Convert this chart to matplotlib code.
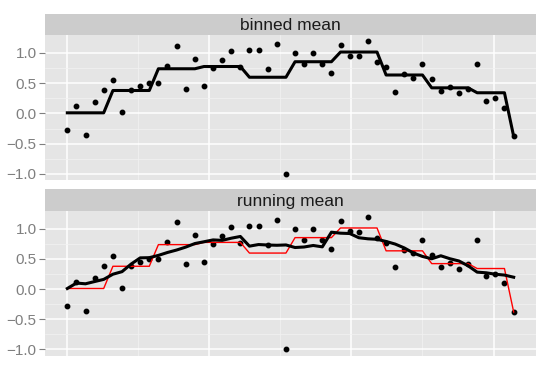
import matplotlib
matplotlib.use("Agg")
import matplotlib.pyplot as plt
import numpy as np
import pandas as pd

x = [0.000, 0.064, 0.128, 0.192, 0.256, 0.321, 0.385, 0.449, 0.513, 0.577,
     0.641, 0.705, 0.769, 0.833, 0.898, 0.962, 1.026, 1.090, 1.154, 1.218,
     1.282, 1.346, 1.411, 1.475, 1.539, 1.603, 1.667, 1.731, 1.795, 1.859,
     1.923, 1.988, 2.052, 2.116, 2.180, 2.244, 2.308, 2.372, 2.436, 2.500,
     2.565, 2.629, 2.693, 2.757, 2.821, 2.885, 2.949, 3.013, 3.077, 3.142]
y = [-0.28, 0.115, -0.357, 0.19, 0.38, 0.55, 0.016, 0.385, 0.445, 0.495,
     0.495, 0.775, 1.115, 0.41, 0.89, 0.45, 0.75, 0.88, 1.03, 0.76,
     1.05, 1.05, 0.73, 1.15, -0.995, 0.99, 0.81, 0.99, 0.81, 0.665,
     1.13, 0.955, 0.945, 1.19, 0.845, 0.76, 0.36, 0.65, 0.59, 0.81,
     0.565, 0.37, 0.435, 0.33, 0.41, 0.81, 0.21, 0.25, 0.093, -0.38]
# bin each point belongs to for the binned mean
bins = [0, 0, 0, 0, 0, 1, 1, 1, 1, 1,
        2, 2, 2, 2, 2, 3, 3, 3, 3, 3,
        4, 4, 4, 4, 4, 5, 5, 5, 5, 5,
        6, 6, 6, 6, 6, 7, 7, 7, 7, 7,
        8, 8, 8, 8, 8, 9, 9, 9, 9, 10]
panel_titles = ["binned mean", "running mean"]
y_ticks = [-1.0, -0.5, 0.0, 0.5, 1.0]
y_ticklabels = ["\u22121.0", "\u22120.5", "0.0", "0.5", "1.0"]

s = pd.Series(y)
binned = s.groupby(bins).transform("mean").values
running = s.rolling(9, center=True, min_periods=1).mean().values

plt.rcParams["font.family"] = ["Liberation Sans", "DejaVu Sans"]

W, H = 553, 365
fig = plt.figure(figsize=(W / 100, H / 100), dpi=100)


def box(left, top, right, bottom):
    return [left / W, 1 - bottom / H, (right - left) / W, (bottom - top) / H]


x_lo, x_hi = min(x), max(x)
xpad = 0.05 * (x_hi - x_lo)
y_lo, y_hi = min(y), max(y)
ypad = 0.05 * (y_hi - y_lo)

layout = [(14, 34.7, 180.3), (189.3, 210.7, 355.7)]

for k, (st_top, p_top, p_bot) in enumerate(layout):
    strip = fig.add_axes(box(45, st_top, 536, p_top))
    strip.set_facecolor("#CCCCCC")
    strip.set_xticks([])
    strip.set_yticks([])
    for sp in strip.spines.values():
        sp.set_visible(False)
    strip.text(0.5, 0.45, panel_titles[k], ha="center", va="center",
               fontsize=12.5, color="#1A1A1A", transform=strip.transAxes)

    ax = fig.add_axes(box(45, p_top, 536, p_bot))
    ax.set_facecolor("#E5E5E5")
    for sp in ax.spines.values():
        sp.set_visible(False)
    ax.set_xlim(x_lo - xpad, x_hi + xpad)
    ax.set_ylim(y_lo - ypad, y_hi + ypad)
    ax.set_xticks([0, 1, 2, 3])
    ax.set_xticks([0.5, 1.5, 2.5], minor=True)
    ax.set_yticks(y_ticks)
    ax.set_yticks([-0.75, -0.25, 0.25, 0.75], minor=True)
    ax.set_yticklabels(y_ticklabels)
    ax.grid(which="major", color="white", linewidth=1.1)
    ax.grid(which="minor", color="#F2F2F2", linewidth=0.5)
    ax.set_axisbelow(True)
    ax.tick_params(axis="x", which="both", length=0, labelbottom=False)
    ax.tick_params(axis="y", which="major", length=4, width=0.8,
                   color="#7F7F7F", labelcolor="#7F7F7F", labelsize=11, pad=2)
    ax.tick_params(axis="y", which="minor", length=0)

    ax.plot(x, y, "o", color="black", markersize=3.2, zorder=3)
    if k == 0:
        ax.plot(x, binned, color="black", linewidth=2.2, zorder=4)
    else:
        ax.plot(x, binned, color="red", linewidth=1.0, zorder=4)
        ax.plot(x, running, color="black", linewidth=2.2, zorder=5)

fig.savefig("out.png", dpi=100)
